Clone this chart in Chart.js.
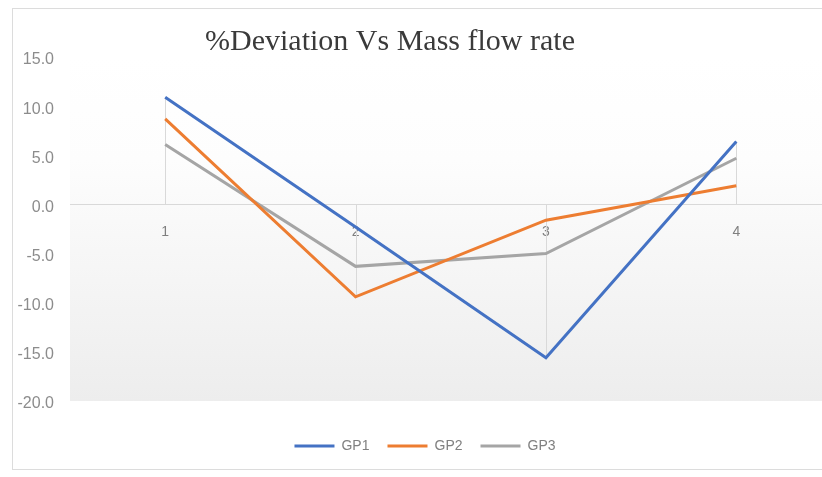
<!DOCTYPE html>
<html>
<head>
<meta charset="utf-8">
<script src="https://cdn.jsdelivr.net/npm/chart.js@4.4.1/dist/chart.umd.min.js"></script>
<style>
  body { margin: 0; background: #fff; }
  #wrap { position: relative; width: 822px; height: 477px; overflow: hidden; background: #fff; }
  #frame { position: absolute; left: 12px; top: 8px; width: 840px; height: 460px; border: 1px solid #dcdcdc; }
  #box { position: absolute; left: -42px; top: 0; width: 864px; height: 477px; }
</style>
</head>
<body>
<div id="wrap">
  <div id="frame"></div>
  <div id="box"><canvas id="chart"></canvas></div>
</div>
<script>
const categories = [1, 2, 3, 4];
const gp1 = [10.9, -2.3, -15.6, 6.4];
const gp2 = [8.7, -9.4, -1.6, 1.9];
const gp3 = [6.1, -6.3, -5.0, 4.7];
const yTicks = [-20, -15, -10, -5, 0, 5, 10, 15];

const toPoints = vals => categories.map((c, i) => ({ x: c, y: vals[i] }));

// plot area fill, light grey gradient towards the bottom
const plotBg = {
  id: 'plotBg',
  beforeDraw(chart) {
    const { ctx, chartArea: a } = chart;
    const g = ctx.createLinearGradient(0, a.top, 0, a.bottom);
    g.addColorStop(0, '#ffffff');
    g.addColorStop(0.3, '#fdfdfd');
    g.addColorStop(1, '#ededed');
    ctx.save();
    ctx.fillStyle = g;
    ctx.fillRect(a.left, a.top, a.right - a.left, a.bottom - a.top);
    ctx.restore();
  }
};

// drop lines from the points to the zero axis
const dropLines = {
  id: 'dropLines',
  beforeDatasetsDraw(chart) {
    const { ctx, scales: { x, y } } = chart;
    ctx.save();
    ctx.strokeStyle = '#d9d9d9';
    ctx.lineWidth = 1;
    categories.forEach((c, i) => {
      const vals = [0, gp1[i], gp2[i], gp3[i]];
      const px = Math.round(x.getPixelForValue(c)) + 0.5;
      ctx.beginPath();
      ctx.moveTo(px, y.getPixelForValue(Math.max(...vals)));
      ctx.lineTo(px, y.getPixelForValue(Math.min(...vals)));
      ctx.stroke();
    });
    ctx.restore();
  }
};

// legend sits a bit right of the title in the original
const legendShift = {
  id: 'legendShift',
  afterLayout(chart) {
    chart.legend.left += 35;
    chart.legend.right += 35;
  }
};

new Chart(document.getElementById('chart'), {
  type: 'line',
  data: {
    datasets: [
      { label: 'GP1', data: toPoints(gp1), borderColor: '#4472C4', backgroundColor: '#4472C4', borderWidth: 3 },
      { label: 'GP2', data: toPoints(gp2), borderColor: '#ED7D31', backgroundColor: '#ED7D31', borderWidth: 3 },
      { label: 'GP3', data: toPoints(gp3), borderColor: '#A5A5A5', backgroundColor: '#A5A5A5', borderWidth: 3 }
    ]
  },
  options: {
    responsive: true,
    maintainAspectRatio: false,
    animation: false,
    elements: {
      line: { borderWidth: 3, tension: 0 },
      point: { radius: 0, hoverRadius: 0 }
    },
    layout: { padding: { left: 0, right: 0, top: 0, bottom: 14 } },
    plugins: {
      title: {
        display: true,
        text: '%Deviation Vs Mass flow rate',
        color: '#3a3a3a',
        font: { family: '"Liberation Serif", "Times New Roman", serif', size: 30, weight: 'normal', lineHeight: 1 },
        padding: { top: 27, bottom: 0 }
      },
      legend: {
        position: 'bottom',
        labels: {
          usePointStyle: true,
          pointStyle: 'line',
          pointStyleWidth: 40,
          padding: 18,
          color: '#808080',
          font: { family: '"Liberation Sans", Arial, sans-serif', size: 14 }
        }
      },
      tooltip: { enabled: false }
    },
    scales: {
      x: {
        type: 'linear',
        position: { y: 0 },
        min: 0.5,
        max: 4.45,
        afterBuildTicks: s => { s.ticks = categories.map(v => ({ value: v })); },
        grid: { display: false, drawTicks: false },
        border: { display: false },
        ticks: {
          padding: 19,
          color: '#7f7f7f',
          font: { family: '"Liberation Sans", Arial, sans-serif', size: 14 }
        }
      },
      x2: {
        type: 'linear',
        position: 'bottom',
        display: true,
        grid: { display: false, drawTicks: false },
        border: { display: false },
        ticks: { display: false },
        afterFit: s => { s.height = 20; }
      },
      y: {
        min: -20,
        max: 15,
        afterBuildTicks: s => { s.ticks = yTicks.map(v => ({ value: v })); },
        afterFit: s => { s.width = 112; },
        grid: {
          drawTicks: false,
          color: ctx => (ctx.tick && ctx.tick.value === 0) ? '#d9d9d9' : 'rgba(0,0,0,0)'
        },
        border: { display: false },
        ticks: {
          padding: 16,
          labelOffset: 3,
          color: '#8c8c8c',
          font: { family: '"Liberation Sans", Arial, sans-serif', size: 16 },
          callback: v => v.toFixed(1)
        }
      }
    }
  },
  plugins: [plotBg, dropLines, legendShift]
});
</script>
</body>
</html>
